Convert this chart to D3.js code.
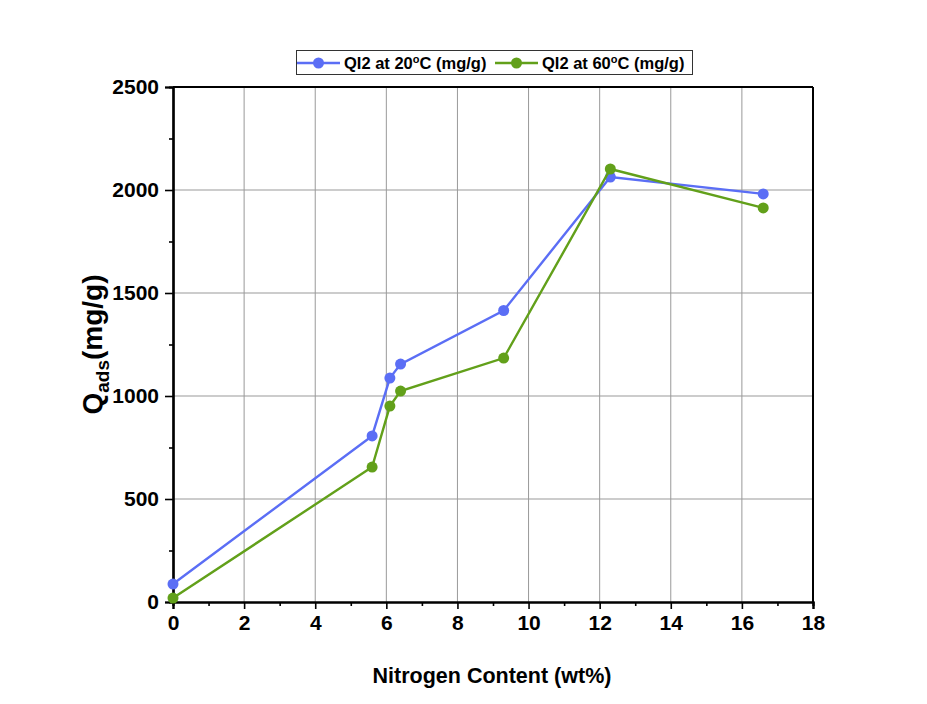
<!DOCTYPE html>
<html>
<head>
<meta charset="utf-8">
<script src="https://cdn.jsdelivr.net/npm/d3@7"></script>
<style>
  html, body { margin: 0; padding: 0; background: #fff; }
  svg { display: block; font-family: "Liberation Sans", Arial, sans-serif; }
</style>
</head>
<body>
<script>
// Nitrogen content (wt%) of each sample
const nitrogen = [0, 5.6, 6.1, 6.4, 9.3, 12.3, 16.6];
// Adsorption capacity (mg/g) at each temperature
const q20 = [87, 806, 1087, 1155, 1415, 2063, 1981];
const q60 = [19, 655, 951, 1024, 1184, 2102, 1913];
const seriesNames = ["QI2 at 20\u00B0C (mg/g)", "QI2 at 60\u00B0C (mg/g)"];
const seriesColors = ["#5b6ef5", "#62a01a"];
const xTicks = [0, 2, 4, 6, 8, 10, 12, 14, 16, 18];
const yTicks = [0, 500, 1000, 1500, 2000, 2500];

const W = 927, H = 704;
const plotL = 173, plotR = 813, plotT = 87, plotB = 602;

const svg = d3.select("body").append("svg").attr("width", W).attr("height", H);

const x = d3.scaleLinear().domain([0, 18]).range([plotL, plotR]);
const y = d3.scaleLinear().domain([0, 2500]).range([plotB, plotT]);

// grid
svg.append("g").selectAll("line").data(xTicks.slice(1, -1)).join("line")
  .attr("x1", d => x(d)).attr("x2", d => x(d)).attr("y1", plotT).attr("y2", plotB)
  .attr("stroke", "#999").attr("stroke-width", 1);
svg.append("g").selectAll("line").data(yTicks.slice(1, -1)).join("line")
  .attr("y1", d => y(d)).attr("y2", d => y(d)).attr("x1", plotL).attr("x2", plotR)
  .attr("stroke", "#999").attr("stroke-width", 1);

// frame: top and right
svg.append("line").attr("x1", plotL).attr("x2", plotR).attr("y1", plotT).attr("y2", plotT)
  .attr("stroke", "#000").attr("stroke-width", 2);
svg.append("line").attr("x1", plotR).attr("x2", plotR).attr("y1", plotT).attr("y2", plotB)
  .attr("stroke", "#000").attr("stroke-width", 2);

// axes
const xAxis = svg.append("g").attr("transform", `translate(0,${plotB})`)
  .call(d3.axisBottom(x).tickValues(xTicks).tickFormat(d3.format("d")).tickSize(7).tickPadding(6));
const xMinor = svg.append("g").attr("transform", `translate(0,${plotB})`)
  .call(d3.axisBottom(x).tickValues(d3.range(1, 18, 2)).tickFormat("").tickSize(4));
const yAxis = svg.append("g").attr("transform", `translate(${plotL},0)`)
  .call(d3.axisLeft(y).tickValues(yTicks).tickFormat(d3.format("d")).tickSize(8).tickPadding(6));
const yMinor = svg.append("g").attr("transform", `translate(${plotL},0)`)
  .call(d3.axisLeft(y).tickValues(d3.range(250, 2500, 500)).tickFormat("").tickSize(4));

[xAxis, xMinor, yAxis, yMinor].forEach(g => {
  g.select(".domain").attr("stroke", "#000").attr("stroke-width", 2.2);
  g.selectAll(".tick line").attr("stroke", "#000").attr("stroke-width", 1.6);
});
[xAxis, yAxis].forEach(g => {
  g.selectAll(".tick text").attr("font-size", 21).attr("font-weight", "bold")
    .attr("fill", "#000").attr("font-family", "Liberation Sans, Arial, sans-serif");
});

// series
const allSeries = [q20, q60];
allSeries.forEach((vals, i) => {
  const pts = nitrogen.map((n, k) => [n, vals[k]]);
  svg.append("path").datum(pts)
    .attr("d", d3.line().x(d => x(d[0])).y(d => y(d[1])))
    .attr("fill", "none").attr("stroke", seriesColors[i]).attr("stroke-width", 2.4);
  svg.append("g").selectAll("circle").data(pts).join("circle")
    .attr("cx", d => x(d[0])).attr("cy", d => y(d[1])).attr("r", 5.5)
    .attr("fill", seriesColors[i]);
});

// axis titles
svg.append("text").attr("x", 492).attr("y", 683)
  .attr("text-anchor", "middle").attr("font-size", 21.5).attr("font-weight", "bold")
  .text("Nitrogen Content (wt%)");

const yt = svg.append("text").attr("transform", `translate(102,${(plotT + plotB) / 2}) rotate(-90)`)
  .attr("text-anchor", "middle").attr("font-size", 28).attr("font-weight", "bold");
yt.append("tspan").text("Q");
yt.append("tspan").attr("font-size", 19).attr("dy", 7).text("ads");
yt.append("tspan").attr("dy", -7).text("(mg/g)");

// legend
const lg = svg.append("g");
lg.append("rect").attr("x", 296.5).attr("y", 50.5).attr("width", 396).attr("height", 24)
  .attr("fill", "#fff").attr("stroke", "#333").attr("stroke-width", 1);
const legendX = [297, 495];
seriesNames.forEach((name, i) => {
  const g = lg.append("g").attr("transform", `translate(${legendX[i]},63)`);
  g.append("line").attr("x1", 0).attr("x2", 43).attr("stroke", seriesColors[i]).attr("stroke-width", 2.4);
  g.append("circle").attr("cx", 21.5).attr("r", 5.5).attr("fill", seriesColors[i]);
  const t = g.append("text").attr("x", 47).attr("y", 6).attr("font-size", 16.5).attr("font-weight", "bold");
  const parts = name.split("\u00B0");
  t.append("tspan").text(parts[0]);
  t.append("tspan").attr("font-size", 11).attr("dy", -6).text("o");
  t.append("tspan").attr("dy", 6).text(parts[1]);
});
</script>
</body>
</html>
